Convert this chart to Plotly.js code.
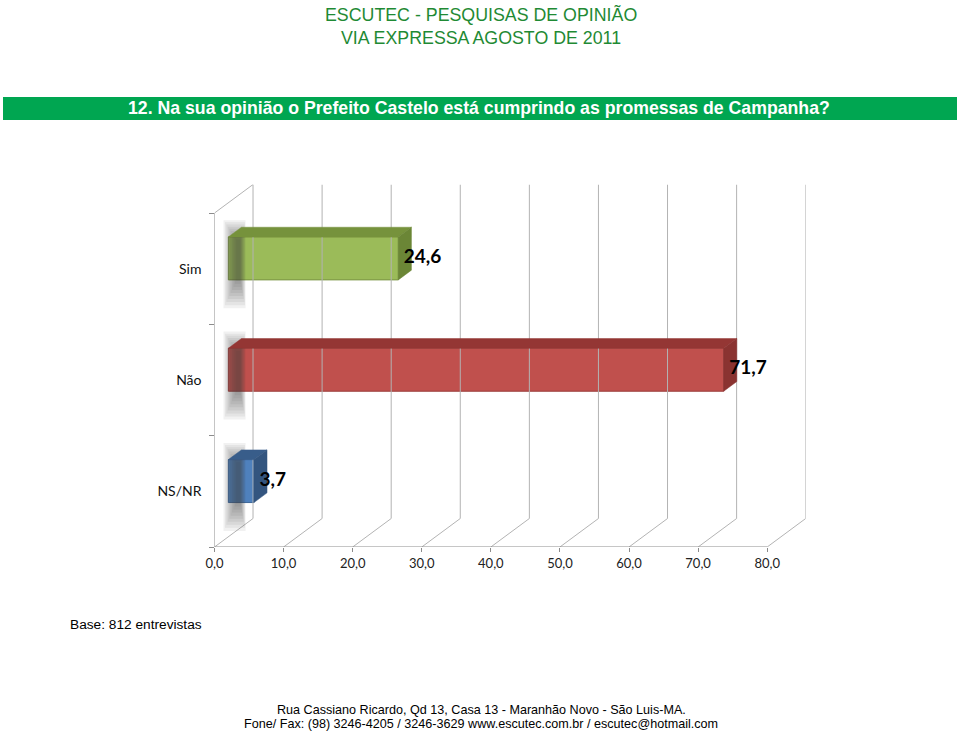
<!DOCTYPE html>
<html>
<head>
<meta charset="utf-8">
<script src="https://cdn.plot.ly/plotly-3.0.1.min.js"></script>
<style>
  html, body { margin: 0; padding: 0; background: #fff; }
  #chart { width: 960px; height: 731px; }
</style>
</head>
<body>
<div id="chart"></div>
<script>
const categories = ['Sim', 'Não', 'NS/NR']
const values = [24.6, 71.7, 3.7]
const frontColors = ['#9bbb59', '#c0504d', '#4f81bd']
const topColors = ['#76923c', '#943634', '#385d8a']
const sideColors = ['#6b8636', '#8a3331', '#33557f']
const edgeColors = ['#7a9444', '#9a3e3b', '#3d6799']
const xTicks = [0, 10, 20, 30, 40, 50, 60, 70, 80]

// 3d box: depth offset in data units
const dx = 5.575
const dy = 0.256
const f1 = 0.36   // bar front face depth
const f2 = 0.70   // bar back face depth
const h = 0.386   // bar thickness
const pxX = 6.906 // px per x unit
const pxY = 111.33 // px per y unit

const pos = categories.map((c, i) => categories.length - 1 - i)
const yMin = -0.5
const yMax = categories.length - 0.5

// walls and grid
const gx = [], gy = []
xTicks.forEach(v => {
  gx.push(v, v + dx, v + dx, null)
  gy.push(yMin, yMin + dy, yMax + dy, null)
})
gx.push(0, dx, null)
gy.push(yMax, yMax + dy, null)

const gridTrace = {
  x: gx, y: gy, mode: 'lines', hoverinfo: 'skip',
  line: { color: '#b3b3b3', width: 1 }
}

const axisTrace = {
  x: [0, 0, null, 0, xTicks[xTicks.length - 1]],
  y: [yMax, yMin, null, yMin, yMin],
  mode: 'lines', hoverinfo: 'skip',
  line: { color: '#8c8c8c', width: 1 }
}

// soft shadows behind the bars on the back wall
const shadows = []
for (let k = 0; k < 10; k++) {
  const hw = (11 - k) / pxX, hh = (44 - 2.6 * k) / pxY
  pos.forEach(p => {
    const cx = 2.9 + k * 0.06, cy = p + 0.04 + k * 0.004
    shadows.push({
      x: [cx - hw, cx + hw, cx + hw, cx - hw, cx - hw],
      y: [cy - hh, cy - hh, cy + hh, cy + hh, cy - hh],
      mode: 'lines', fill: 'toself', hoverinfo: 'skip',
      line: { width: 0 }, fillcolor: 'rgba(70,70,70,0.075)'
    })
  })
}

// top and side faces
const faces = []
values.forEach((v, i) => {
  const p = pos[i]
  const t1 = p + h / 2 + f1 * dy, t2 = p + h / 2 + f2 * dy
  const b1 = p - h / 2 + f1 * dy, b2 = p - h / 2 + f2 * dy
  faces.push({
    x: [f1 * dx, v + f1 * dx, v + f2 * dx, f2 * dx, f1 * dx],
    y: [t1, t1, t2, t2, t1],
    mode: 'lines', fill: 'toself', hoverinfo: 'skip',
    line: { width: 0.5, color: topColors[i] }, fillcolor: topColors[i]
  })
  faces.push({
    x: [v + f1 * dx, v + f1 * dx, v + f2 * dx, v + f2 * dx, v + f1 * dx],
    y: [b1, t1, t2, b2, b1],
    mode: 'lines', fill: 'toself', hoverinfo: 'skip',
    line: { width: 0.5, color: sideColors[i] }, fillcolor: sideColors[i]
  })
})

const barTrace = {
  type: 'bar', orientation: 'h',
  x: values,
  y: pos.map(p => p + f1 * dy),
  base: f1 * dx,
  width: h,
  marker: { color: frontColors, line: { color: edgeColors, width: 1 } },
  hoverinfo: 'skip'
}

const labelTrace = {
  x: values.map(v => v + f1 * dx + 0.8),
  y: pos.map(p => p + f1 * dy),
  text: values.map(v => v.toFixed(1).replace('.', ',')),
  mode: 'text', textposition: 'middle right',
  textfont: { family: 'Lato, sans-serif', size: 19, color: '#000', weight: 'bold' },
  hoverinfo: 'skip', cliponaxis: false
}

const data = [gridTrace, ...shadows, axisTrace, ...faces, barTrace, labelTrace]

const note = (text, x, y, size, extra) => Object.assign({
  text, xref: 'paper', yref: 'paper', x: x / 960, y: (731 - y) / 731,
  xanchor: 'center', yanchor: 'middle', showarrow: false,
  font: { family: 'Liberation Sans, Arial, sans-serif', size, color: '#000' }
}, extra || {})

const layout = {
  width: 960, height: 731,
  margin: { l: 0, r: 0, t: 0, b: 0 },
  paper_bgcolor: '#fff', plot_bgcolor: 'rgba(0,0,0,0)',
  showlegend: false,
  barmode: 'overlay',
  separators: ',.',
  font: { family: 'Lato, sans-serif', color: '#222' },
  xaxis: {
    domain: [214.5 / 960, 805.7 / 960],
    range: [0, 80 + dx],
    tickvals: xTicks, tickformat: '.1f',
    ticks: 'outside', ticklen: 4, tickcolor: '#8c8c8c',
    showgrid: false, zeroline: false, showline: false,
    tickfont: { size: 13, color: '#222' }
  },
  yaxis: {
    domain: [(731 - 547) / 731, (731 - 184.5) / 731],
    range: [yMin, yMax + dy],
    tickvals: pos, ticktext: categories,
    ticks: '', ticklabelstandoff: 12,
    minor: { tickmode: 'array', tickvals: [-0.5, 0.5, 1.5, 2.5], ticks: 'outside', ticklen: 5, tickcolor: '#8c8c8c', showgrid: false },
    showgrid: false, zeroline: false, showline: false,
    tickfont: { size: 14, color: '#111' }
  },
  shapes: [{
    type: 'rect', xref: 'paper', yref: 'paper', layer: 'below',
    x0: 3 / 960, x1: 957 / 960, y0: (731 - 120) / 731, y1: (731 - 97) / 731,
    fillcolor: '#00a651', line: { width: 0 }
  }],
  annotations: [
    note('ESCUTEC - PESQUISAS DE OPINIÃO', 481, 15, 17.8, { font: { family: 'Liberation Sans, Arial, sans-serif', size: 17.8, color: '#1f8a34' } }),
    note('VIA EXPRESSA AGOSTO DE 2011', 481, 38, 17.8, { font: { family: 'Liberation Sans, Arial, sans-serif', size: 17.8, color: '#1f8a34' } }),
    note('12. Na sua opinião o Prefeito Castelo está cumprindo as promessas de Campanha?', 479, 108.5, 17.7,
      { font: { family: 'Liberation Sans, Arial, sans-serif', size: 17.7, color: '#fff', weight: 'bold' } }),
    note('Base: 812 entrevistas', 68, 624, 13.7, { xanchor: 'left' }),
    note('Rua Cassiano Ricardo, Qd 13, Casa 13 - Maranhão Novo - São Luis-MA.', 481, 710, 12.6),
    note('Fone/ Fax: (98) 3246-4205 / 3246-3629 www.escutec.com.br / escutec@hotmail.com', 481, 724, 12.6)
  ]
}

Plotly.newPlot('chart', data, layout, { displayModeBar: false, staticPlot: true })
</script>
</body>
</html>
